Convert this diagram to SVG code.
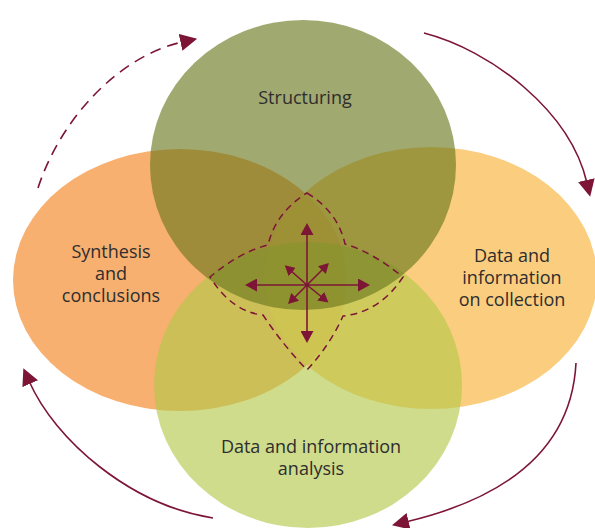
<svg xmlns="http://www.w3.org/2000/svg" width="595" height="528" viewBox="0 0 595 528">
  <style>
    .lbl { font-family: "Open Sans", "Liberation Sans", sans-serif; font-size: 18px; fill: #2e2e2e; text-anchor: middle; }
    .conn { fill: none; stroke: #7d1636; stroke-width: 1.6; }
    .dash { stroke-dasharray: 11 7; }
    .lens { fill: none; stroke: #7d1636; stroke-width: 1.5; stroke-dasharray: 7 5; }
    .ray { fill: none; stroke: #7d1636; stroke-width: 1.6; }
  </style>
  <defs>
    <marker id="bigHead" markerUnits="userSpaceOnUse" markerWidth="18" markerHeight="17" refX="3" refY="8.5" orient="auto">
      <path d="M0,0 L17,8.5 L0,17 z" fill="#7d1636"/>
    </marker>
    <marker id="headV" markerUnits="userSpaceOnUse" markerWidth="13" markerHeight="13" refX="4" refY="6.5" orient="auto">
      <path d="M0,0 L12,6.5 L0,13 z" fill="#7d1636"/>
    </marker>
    <marker id="headD" markerUnits="userSpaceOnUse" markerWidth="11" markerHeight="11" refX="3" refY="5.5" orient="auto">
      <path d="M0,0 L10,5.5 L0,11 z" fill="#7d1636"/>
    </marker>
  </defs>

  <g id="node-synthesis">
    <ellipse cx="180" cy="280" rx="167" ry="131" fill="#f69c4c" fill-opacity="0.8"/>
    <text class="lbl" x="111" y="258">Synthesis</text>
    <text class="lbl" x="111" y="280">and</text>
    <text class="lbl" x="111" y="302">conclusions</text>
  </g>
  <g id="node-collection">
    <ellipse cx="431" cy="278" rx="166" ry="131" fill="#fac15e" fill-opacity="0.8"/>
    <text class="lbl" x="512" y="262">Data and</text>
    <text class="lbl" x="512" y="284">information</text>
    <text class="lbl" x="512" y="306">on collection</text>
  </g>
  <g id="node-analysis">
    <ellipse cx="308" cy="385" rx="154" ry="143" fill="#b3c749" fill-opacity="0.63"/>
    <text class="lbl" x="311" y="453">Data and information</text>
    <text class="lbl" x="311" y="475">analysis</text>
  </g>
  <g id="node-structuring">
    <ellipse cx="303" cy="165" rx="153" ry="145" fill="#68761c" fill-opacity="0.63"/>
    <text class="lbl" x="305" y="104">Structuring</text>
  </g>

  <g id="core">
    <path class="lens" d="M307,193 Q338,212 345,244 Q372,252 403,277 Q380,312 343,316 Q330,345 307,370 Q283,345 263,315 Q232,312 210,277 Q240,252 268,245 Q276,212 307,193 Z"/>
    <g id="rays">
      <line class="ray" x1="307" y1="285" x2="307" y2="231" marker-end="url(#headV)"/>
      <line class="ray" x1="307" y1="285" x2="307" y2="335" marker-end="url(#headV)"/>
      <line class="ray" x1="307" y1="285" x2="253" y2="285" marker-end="url(#headV)"/>
      <line class="ray" x1="307" y1="285" x2="362" y2="285" marker-end="url(#headV)"/>
      <line class="ray" x1="307" y1="285" x2="290" y2="270" marker-end="url(#headD)"/>
      <line class="ray" x1="307" y1="285" x2="324" y2="268" marker-end="url(#headD)"/>
      <line class="ray" x1="307" y1="285" x2="293" y2="299" marker-end="url(#headD)"/>
      <line class="ray" x1="307" y1="285" x2="323" y2="298" marker-end="url(#headD)"/>
      <circle cx="307" cy="285" r="2" fill="#7d1636"/>
    </g>
  </g>

  <g id="connectors">
    <path class="conn dash" d="M38,188 C60,120 118,56 183.5,41.7" marker-end="url(#bigHead)"/>
    <path class="conn" d="M424,33 C490,50 570,110 587,183" marker-end="url(#bigHead)"/>
    <path class="conn" d="M576,363 C572,440 520,495 405.6,522" marker-end="url(#bigHead)"/>
    <path class="conn" d="M213,518 C130,505 55,440 29,381" marker-end="url(#bigHead)"/>
  </g>
</svg>
